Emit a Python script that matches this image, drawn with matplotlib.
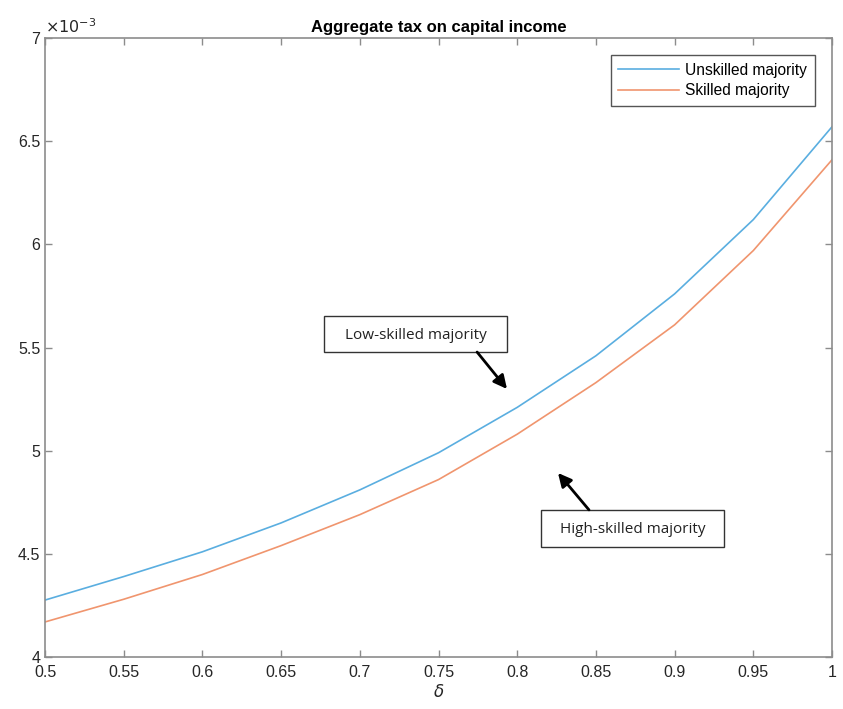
import numpy as np
import matplotlib
matplotlib.use('Agg')
import matplotlib.pyplot as plt
from matplotlib.patches import Rectangle

# delta grid and aggregate tax (in units of 1e-3)
delta = [0.5, 0.55, 0.6, 0.65, 0.7, 0.75, 0.8, 0.85, 0.9, 0.95, 1.0]
tax_unskilled = [4.276, 4.39, 4.51, 4.65, 4.81, 4.99, 5.21, 5.46, 5.76, 6.12, 6.57]
tax_skilled = [4.17, 4.28, 4.40, 4.54, 4.69, 4.86, 5.08, 5.33, 5.61, 5.97, 6.41]

xticks = [0.5, 0.55, 0.6, 0.65, 0.7, 0.75, 0.8, 0.85, 0.9, 0.95, 1.0]
xtick_labels = ['0.5', '0.55', '0.6', '0.65', '0.7', '0.75', '0.8', '0.85', '0.9', '0.95', '1']
yticks = [4, 4.5, 5, 5.5, 6, 6.5, 7]
ytick_labels = ['4', '4.5', '5', '5.5', '6', '6.5', '7']

plt.rcParams['font.family'] = ['Liberation Sans', 'DejaVu Sans']

fig = plt.figure(figsize=(8.43, 7.09), dpi=100)
ax = fig.add_axes([0.0534, 0.0733, 0.9336, 0.8731])

ax.plot(delta, tax_unskilled, color='#5aaee0', lw=1.2, label='Unskilled majority')
ax.plot(delta, tax_skilled, color='#f0956e', lw=1.2, label='Skilled majority')

ax.set_xlim(0.5, 1.0)
ax.set_ylim(4, 7)
ax.set_xticks(xticks)
ax.set_xticklabels(xtick_labels)
ax.set_yticks(yticks)
ax.set_yticklabels(ytick_labels)

axis_gray = '#8c8c8c'
for sp in ax.spines.values():
    sp.set_color(axis_gray)
    sp.set_linewidth(1.2)
ax.tick_params(direction='in', length=5, width=1, colors=axis_gray,
               labelcolor='#262626', labelsize=11.5, top=True, right=True)
ax.tick_params(axis='x', pad=6)

ax.text(0.0, 1.003, r'$\times10^{-3}$', transform=ax.transAxes, fontsize=11.5,
        color='#262626', ha='left', va='bottom')
ax.set_title('Aggregate tax on capital income', fontsize=12, fontweight='bold', pad=4)
ax.set_xlabel(r'$\delta$', fontsize=12, color='#262626', labelpad=2)

leg = ax.legend(loc='upper right', fontsize=11.2, fancybox=False, edgecolor='#555555',
                framealpha=1, borderaxespad=1.1, handlelength=3.9, handletextpad=0.4,
                labelspacing=0.35, borderpad=0.5)
leg.get_frame().set_linewidth(1.0)

# annotation boxes: (x0, y0, width, height) in data units, label, arrow start, arrow end
boxes = [
    ((0.6773, 5.476), 0.1162, 0.179, 'Low-skilled majority', (0.7745, 5.478), (0.7935, 5.299)),
    ((0.8151, 4.534), 0.1163, 0.179, 'High-skilled majority', (0.8456, 4.713), (0.8259, 4.892)),
]
for (x0, y0), w, h, label, start, end in boxes:
    ax.add_patch(Rectangle((x0, y0), w, h, facecolor='white', edgecolor='#333333', lw=1.0, zorder=3))
    ax.text(x0 + w / 2, y0 + h / 2 - 0.005, label, ha='center', va='center', fontsize=11,
            family=['Open Sans', 'DejaVu Sans'], color='#222222', zorder=4)
    ax.annotate('', xy=end, xytext=start,
                arrowprops=dict(arrowstyle='-|>,head_length=0.8,head_width=0.4',
                                color='black', lw=2.0, shrinkA=0, shrinkB=0), zorder=4)

fig.savefig('out.png', dpi=100)
